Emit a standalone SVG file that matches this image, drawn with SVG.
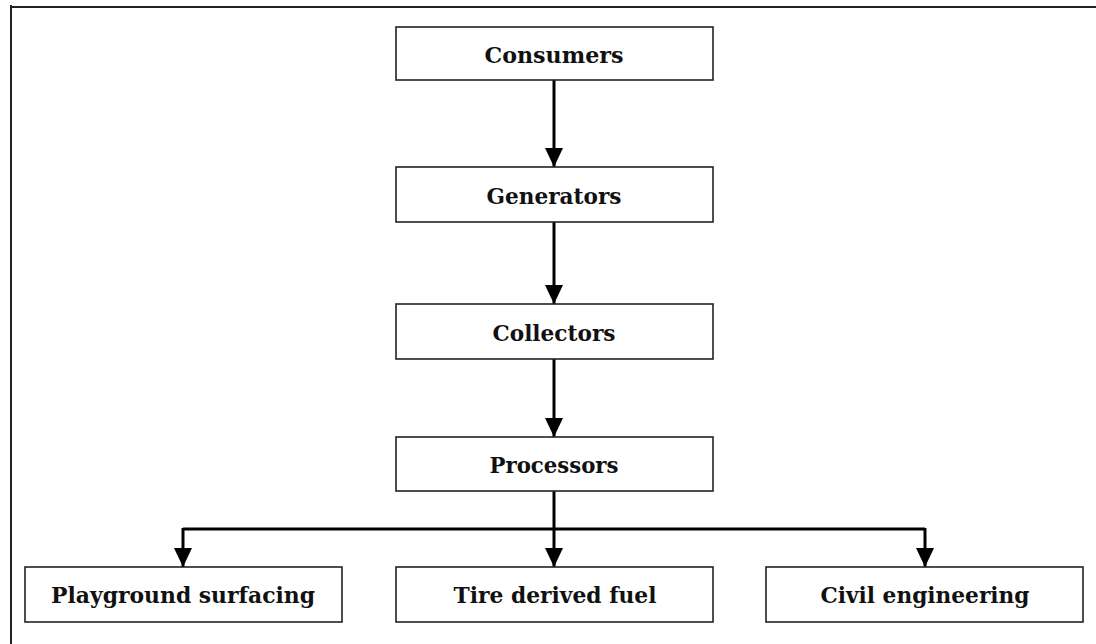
<svg xmlns="http://www.w3.org/2000/svg" width="1096" height="644" viewBox="0 0 1096 644">
  <style>
    .box { fill: #ffffff; stroke: #222222; stroke-width: 1.6; }
    .lbl { font-family: "DejaVu Serif", "Liberation Serif", serif; font-weight: bold; font-size: 23px; fill: #111111; text-anchor: middle; }
    .conn { fill: none; stroke: #000000; stroke-width: 3; }
    .frame { fill: none; stroke: #222222; stroke-width: 2; }
  </style>
  <defs>
    <marker id="arrow" markerUnits="userSpaceOnUse" markerWidth="20" markerHeight="18" viewBox="0 0 20 18" refX="19" refY="9" orient="auto">
      <path d="M0,0 L19,9 L0,18 Z" fill="#000000"/>
    </marker>
  </defs>
  <rect x="0" y="0" width="1096" height="644" fill="#ffffff"/>
  <g id="frame">
    <path class="frame" d="M10,7 L1096,7 M11,5 L11,644"/>
  </g>
  <g id="connectors">
    <path class="conn" d="M554,80 L554,167" marker-end="url(#arrow)"/>
    <path class="conn" d="M554,222 L554,304" marker-end="url(#arrow)"/>
    <path class="conn" d="M554,359 L554,437" marker-end="url(#arrow)"/>
    <path class="conn" d="M554,491 L554,567" marker-end="url(#arrow)"/>
    <path class="conn" d="M183,529 L925,529"/>
    <path class="conn" d="M183,528 L183,567" marker-end="url(#arrow)"/>
    <path class="conn" d="M925,528 L925,567" marker-end="url(#arrow)"/>
  </g>
  <g id="consumers">
    <rect class="box" x="396" y="27" width="317" height="53"/>
    <text class="lbl" x="554" y="63" textLength="139" lengthAdjust="spacingAndGlyphs">Consumers</text>
  </g>
  <g id="generators">
    <rect class="box" x="396" y="167" width="317" height="55"/>
    <text class="lbl" x="554" y="204" textLength="135" lengthAdjust="spacingAndGlyphs">Generators</text>
  </g>
  <g id="collectors">
    <rect class="box" x="396" y="304" width="317" height="55"/>
    <text class="lbl" x="554" y="341" textLength="123" lengthAdjust="spacingAndGlyphs">Collectors</text>
  </g>
  <g id="processors">
    <rect class="box" x="396" y="437" width="317" height="54"/>
    <text class="lbl" x="554" y="473" textLength="129" lengthAdjust="spacingAndGlyphs">Processors</text>
  </g>
  <g id="playground">
    <rect class="box" x="25" y="567" width="317" height="55"/>
    <text class="lbl" x="183" y="603" textLength="264" lengthAdjust="spacingAndGlyphs">Playground surfacing</text>
  </g>
  <g id="tdf">
    <rect class="box" x="396" y="567" width="317" height="55"/>
    <text class="lbl" x="555" y="603" textLength="203" lengthAdjust="spacingAndGlyphs">Tire derived fuel</text>
  </g>
  <g id="civil">
    <rect class="box" x="766" y="567" width="317" height="55"/>
    <text class="lbl" x="925" y="603" textLength="209" lengthAdjust="spacingAndGlyphs">Civil engineering</text>
  </g>
</svg>
